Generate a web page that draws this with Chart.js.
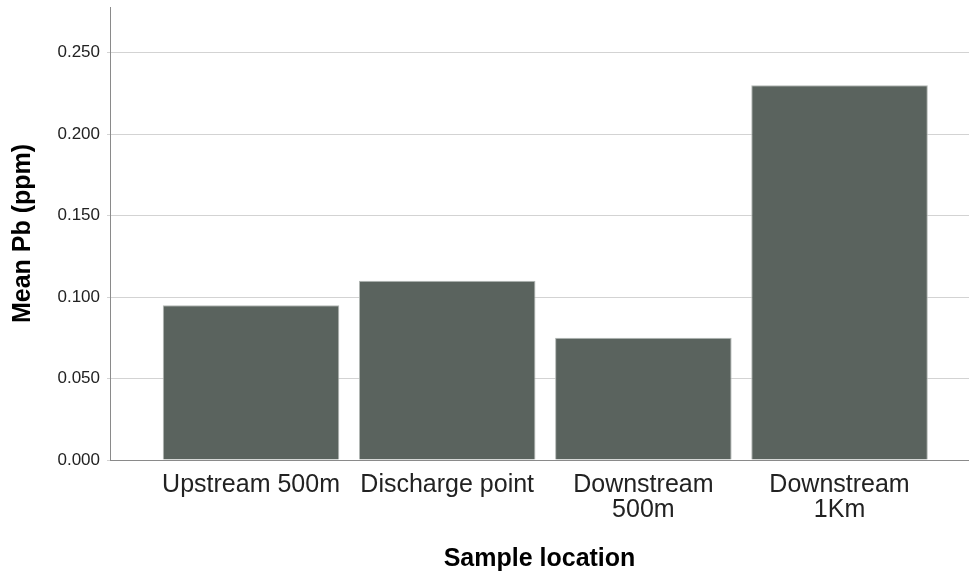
<!DOCTYPE html>
<html>
<head>
<meta charset="utf-8">
<style>
  html, body { margin: 0; padding: 0; background: #ffffff; }
  #wrap { width: 969px; height: 576px; position: relative; }
</style>
<script src="https://cdn.jsdelivr.net/npm/chart.js@4/dist/chart.umd.min.js"></script>
</head>
<body>
<div id="wrap"><canvas id="chart"></canvas></div>
<script>
// categories on the x axis (multi-line labels as arrays)
var categories = [
  ["Upstream 500m"],
  ["Discharge point"],
  ["Downstream", "500m"],
  ["Downstream", "1Km"]
];
// mean Pb per location, ppm
var meanPb = [0.095, 0.110, 0.075, 0.230];
var yTicks = [0, 0.05, 0.1, 0.15, 0.2, 0.25];

var fontFamily = "'Liberation Sans', Arial, sans-serif";

// linear x so the category slots can sit off-centre like the original
var points = [];
for (var i = 0; i < meanPb.length; i++) {
  points.push({ x: i + 1, y: meanPb[i] });
}

var ctx = document.getElementById("chart");
new Chart(ctx, {
  type: "bar",
  data: {
    datasets: [{
      data: points,
      backgroundColor: "#5a635e",
      borderColor: "#b3b8b5",
      borderWidth: 1,
      barPercentage: 0.9,
      categoryPercentage: 1.0
    }]
  },
  options: {
    responsive: true,
    maintainAspectRatio: false,
    animation: false,
    layout: { padding: { top: 7, right: 0, bottom: 0, left: 0 } },
    plugins: {
      legend: { display: false },
      tooltip: { enabled: false }
    },
    scales: {
      x: {
        type: "linear",
        min: 0.281,
        max: 4.66,
        offset: false,
        grid: { display: false, offset: false, drawTicks: false },
        border: { display: true, color: "#8a8a8a", width: 1 },
        afterBuildTicks: function(scale) {
          scale.ticks = categories.map(function(c, i) { return { value: i + 1 }; });
        },
        afterFit: function(scale) {
          scale.height = 116;
          scale.paddingLeft = 0;
          scale.paddingRight = 0;
        },
        ticks: {
          autoSkip: false,
          maxRotation: 0,
          padding: 13,
          color: "#222222",
          font: { family: fontFamily, size: 25, lineHeight: 1.0 },
          callback: function(value) {
            var c = categories[Math.round(value) - 1];
            return c ? c : "";
          }
        },
        title: {
          display: true,
          text: "Sample location",
          color: "#000000",
          font: { family: fontFamily, size: 25, weight: "bold", lineHeight: 1.2 },
          padding: { top: 22, bottom: 2 }
        }
      },
      y: {
        min: 0,
        max: 0.278,
        grid: { color: "#d3d3d3", lineWidth: 1, tickLength: 3, drawTicks: true },
        border: { display: true, color: "#8a8a8a", width: 1 },
        afterBuildTicks: function(scale) {
          scale.ticks = yTicks.map(function(v) { return { value: v }; });
        },
        afterFit: function(scale) {
          scale.width = 110;
          scale.paddingTop = 0;
          scale.paddingBottom = 0;
        },
        ticks: {
          padding: 7,
          color: "#222222",
          font: { family: fontFamily, size: 17 },
          callback: function(value) { return Number(value).toFixed(3); }
        },
        title: {
          display: true,
          text: "Mean Pb (ppm)",
          color: "#000000",
          font: { family: fontFamily, size: 25, weight: "bold", lineHeight: 1.2 },
          padding: { top: 8, bottom: 0 }
        }
      }
    }
  }
});
</script>
</body>
</html>
